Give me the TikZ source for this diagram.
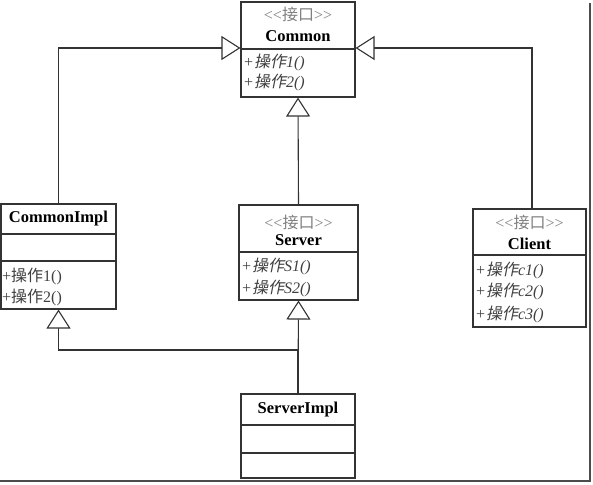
\documentclass[tikz,border=0pt]{standalone}
\usepackage{fontspec}
\setmainfont{Liberation Serif}
\newfontfamily\cjk{Noto Sans CJK SC}
\newfontfamily\cjkit[FakeSlant=0.2]{Noto Sans CJK SC}
\usetikzlibrary{arrows.meta}
\newcommand{\cz}[1]{{\cjk #1}}
\newcommand{\czi}[1]{{\cjkit #1}}
\newcommand{\stereo}{<\kern0pt<\kern0pt\cz{接口}>\kern0pt>}
\begin{document}
\begin{tikzpicture}[x=1pt,y=-1pt,
  umlbox/.style={draw=black!80,line width=1.1pt,rectangle,inner sep=0pt,fill=white},
  sepline/.style={draw=black!80,line width=1.1pt},
  stereotxt/.style={text=black!50,font=\fontsize{16}{18}\selectfont,inner sep=0pt},
  nametxt/.style={font=\fontsize{16.5}{18}\selectfont\bfseries,inner sep=0pt},
  optxt/.style={text=black!75,font=\fontsize{16}{18}\selectfont\itshape,inner sep=0pt,anchor=west},
  opup/.style={text=black!75,font=\fontsize{16}{18}\selectfont,inner sep=0pt,anchor=west},
  gen/.style={draw=black!80,line width=1.1pt,-{Triangle[open,length=19pt,width=24pt,fill=white]}},
  frameline/.style={draw=black!70,line width=2pt}
]
\useasboundingbox (0,0) rectangle (593,484);
% frame
\draw[frameline] (0,481) -- (590,481) -- (590,3);
% boxes
\node[umlbox,minimum width=114pt,minimum height=95pt] (common) at (298,49.5) {};
\node[umlbox,minimum width=115pt,minimum height=105pt] (commonimpl) at (58.5,256.5) {};
\node[umlbox,minimum width=119pt,minimum height=95pt] (server) at (298.5,252.5) {};
\node[umlbox,minimum width=113pt,minimum height=118pt] (client) at (529.5,268) {};
\node[umlbox,minimum width=114pt,minimum height=84pt] (serverimpl) at (298,436) {};
% separators
\draw[sepline] (common.west |- 0,49) -- (common.east |- 0,49);
\draw[sepline] (commonimpl.west |- 0,234) -- (commonimpl.east |- 0,234);
\draw[sepline] (commonimpl.west |- 0,261) -- (commonimpl.east |- 0,261);
\draw[sepline] (server.west |- 0,252) -- (server.east |- 0,252);
\draw[sepline] (client.west |- 0,255) -- (client.east |- 0,255);
\draw[sepline] (serverimpl.west |- 0,425) -- (serverimpl.east |- 0,425);
\draw[sepline] (serverimpl.west |- 0,453) -- (serverimpl.east |- 0,453);
% texts
\node[stereotxt] (st1) at (298,14) {\stereo};
\node[nametxt] (n1) at (298,36) {Common};
\node[optxt] (o11) at (243,62) {+\czi{操作}1()};
\node[optxt] (o12) at (243,82) {+\czi{操作}2()};
\node[nametxt] (n2) at (58.5,219) {CommonImpl};
\node[opup] (o21) at (2,276) {+\cz{操作}1()};
\node[opup] (o22) at (2,297) {+\cz{操作}2()};
\node[stereotxt] (st3) at (298.5,222) {\stereo};
\node[nametxt] (n3) at (298.5,240) {Server};
\node[optxt] (o31) at (241,266) {+\czi{操作}S1()};
\node[optxt] (o32) at (241,288) {+\czi{操作}S2()};
\node[stereotxt] (st4) at (529.5,222) {\stereo};
\node[nametxt] (n4) at (529.5,244) {Client};
\node[optxt] (o41) at (475,270) {+\czi{操作}c1()};
\node[optxt] (o42) at (475,291) {+\czi{操作}c2()};
\node[optxt] (o43) at (475,314) {+\czi{操作}c3()};
\node[nametxt] (n5) at (298,410) {ServerImpl};
% connectors
\draw[gen] (commonimpl.north) |- (common.west |- 0,48);
\draw[gen] ([xshift=2.5pt]client.north) |- (common.east |- 0,48);
\draw[gen] (server.north) -- (common.south);
\draw[gen] (serverimpl.north) -- (server.south);
\coordinate (joint) at (298,350);
\draw[gen] (serverimpl.north) -- (joint) -| (commonimpl.south);
\end{tikzpicture}
\end{document}
